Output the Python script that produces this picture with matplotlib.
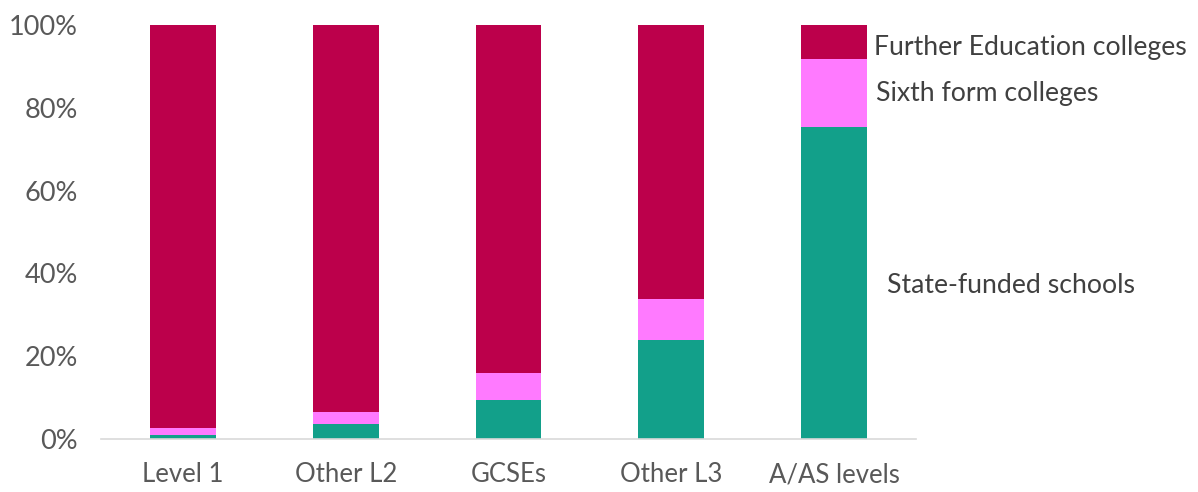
import matplotlib
matplotlib.use("Agg")
import matplotlib.pyplot as plt
from matplotlib.ticker import FuncFormatter

categories = ["Level 1", "Other L2", "GCSEs", "Other L3", "A/AS levels"]
state_funded = [0.9, 3.6, 9.4, 23.8, 75.4]
sixth_form = [1.8, 2.9, 6.5, 9.9, 16.4]
further_ed = [97.3, 93.5, 84.1, 66.3, 8.2]
series_names = ["State-funded schools", "Sixth form colleges", "Further Education colleges"]
colors = ["#12A08A", "#FF7AFF", "#BC004B"]

plt.rcParams['font.family'] = ['Lato', 'DejaVu Sans']

fig = plt.figure(figsize=(11.98, 4.92), dpi=100)
ax = fig.add_axes([0.0847, 0.1083, 0.6795, 0.8407])

x = list(range(len(categories)))
bottom = [0.0] * len(categories)
for vals, col in zip([state_funded, sixth_form, further_ed], colors):
    ax.bar(x, vals, width=0.405, bottom=bottom, color=col, edgecolor='none')
    bottom = [b + v for b, v in zip(bottom, vals)]

ax.set_xlim(-0.5, len(categories) - 0.5)
ax.set_ylim(0, 100)
ax.set_yticks([0, 20, 40, 60, 80, 100])
ax.yaxis.set_major_formatter(FuncFormatter(lambda v, p: f"{int(v)}%"))
ax.set_xticks(x)
ax.set_xticklabels(categories)
ax.tick_params(axis='both', length=0, colors='#595959')
ax.tick_params(axis='y', pad=17, labelsize=19.5)
ax.tick_params(axis='x', pad=17, labelsize=18.5)
for s in ['top', 'right', 'left']:
    ax.spines[s].set_visible(False)
ax.spines['bottom'].set_color('#D9D9D9')
ax.spines['bottom'].set_linewidth(1.2)

# Series labels next to the last bar
label_y = [37.1, 83.5, 94.7]
label_x = [4.325, 4.26, 4.245]
for name, yv, xv in zip(series_names, label_y, label_x):
    ax.text(xv, yv, name, fontsize=19.2, color='#404040',
            va='center', ha='left', clip_on=False)

fig.savefig("out.png", dpi=100)
